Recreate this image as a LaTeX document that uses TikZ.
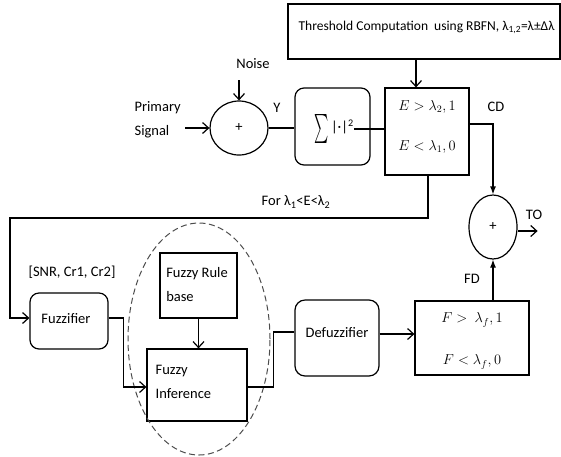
\documentclass[tikz,border=0pt]{standalone}
\usepackage{fontspec}
\setmainfont{Carlito}
\usetikzlibrary{arrows.meta,shapes.geometric}
\begin{document}
\begin{tikzpicture}[x=1pt,y=-1pt,
  font=\fontsize{14.5}{24}\selectfont,
  line width=1.2pt,
  sq/.style={draw, line width=1.2pt, inner sep=0pt},
  rsq/.style={sq, rounded corners=9pt},
  oval/.style={draw, ellipse, line width=1.2pt, inner sep=0pt},
  arr/.style={-{Straight Barb[length=6pt,width=11pt]}},
  farr/.style={-{Latex[length=8pt,width=6pt]}},
  txt/.style={inner sep=0pt},
  mth/.style={inner sep=0pt, font=\fontsize{14.5}{24}\selectfont}
]
\useasboundingbox (0,0) rectangle (561,456);

% blocks
\node[sq, minimum width=272pt, minimum height=55pt] (tb) at (424,31.5) {};
\node[txt, anchor=west] (tbt) at (298,27) {\resizebox{256pt}{!}{Threshold Computation\ \ using RBFN, λ\textsubscript{1,2}=λ±Δλ}};
\node[sq, minimum width=84pt, minimum height=87pt] (E) at (427,131.5) {};
\node[mth] (e1) at (427,107) {$E>\lambda_2,1$};
\node[mth] (e2) at (427,147) {$E<\lambda_1,0$};
\node[rsq, minimum width=75pt, minimum height=77pt] (sum) at (332.5,126.5) {};
\node[txt] (sumt) at (334,129) {\raisebox{-8pt}{\scalebox{1.35}[2.9]{$\sum$}}\,|·|\textsuperscript{2}};
\node[oval, minimum width=58pt, minimum height=54pt] (c1) at (239,128) {+};
\node[oval, minimum width=48pt, minimum height=64pt] (c2) at (493,227) {+};
\node[rsq, minimum width=78pt, minimum height=56pt] (fz) at (69,321) {};
\node[txt] (fzt) at (66,319) {Fuzzifier};
\node[sq, minimum width=77pt, minimum height=65pt] (rb) at (198.5,285.5) {};
\node[txt, align=left] (rbt) at (197,284.5) {Fuzzy Rule\\base};
\node[sq, minimum width=100pt, minimum height=72pt] (inf) at (197,385) {};
\node[txt, align=left, anchor=west] (inft) at (155,381.5) {Fuzzy\\Inference};
\node[rsq, rounded corners=10pt, minimum width=84pt, minimum height=76pt] (dz) at (337,338) {};
\node[txt] (dzt) at (337,333) {Defuzzifier};
\node[sq, minimum width=114pt, minimum height=74pt] (F) at (472,338) {};
\node[mth] (f1) at (472,320) {$F>\ \lambda_f,1$};
\node[mth] (f2) at (472,362) {$F<\lambda_f,0$};
\node[draw, ellipse, dash pattern=on 6pt off 3.5pt, draw=black!70, line width=1pt,
      minimum width=142pt, minimum height=232pt] (grp) at (199,339) {};

% labels
\node[txt, align=left, anchor=west] (ps) at (134,120) {Primary\\Signal};
\node[txt] (nzl) at (253,64) {Noise};
\node[txt] (yl) at (277,108) {Y};
\node[txt] (cdl) at (496,107) {CD};
\node[txt] (tol) at (534,215) {TO};
\node[txt] (fdl) at (472,279) {FD};
\node[txt] (forl) at (296,202) {For λ\textsubscript{1}<E<λ\textsubscript{2}};
\node[txt] (snr) at (72,272) {[SNR, Cr1, Cr2]};

% connector end points
\coordinate (psin) at (185,128);
\coordinate (nzin) at (239,80);
\coordinate (fb) at (10,218);

% connectors
\draw[arr] (psin) -- (c1.west);
\draw[arr] (nzin) -- (c1.north);
\draw (c1.east) -- (sum.west |- c1.east);
\draw (sumt.east) -- (E.west |- sumt.east);
\draw[arr] ([xshift=-11pt]E.north |- tb.south) -- ([xshift=-11pt]E.north);
\draw[farr] ([yshift=7.5pt]E.east) -| (c2.north);
\draw[arr] ([xshift=1pt]E.south) |- (fb) |- ([yshift=3pt]fz.west);
\draw[arr] ([yshift=3pt]fz.east) -- ++(15,0) |- ([yshift=-2pt]inf.west);
\draw[arr] (rb.south) -- (rb.south |- inf.north);
\draw ([yshift=-2pt]inf.east) -- ++(26,0) |- ([yshift=6pt]dz.west);
\draw[arr] ([yshift=4pt]dz.east) -- ([yshift=4pt]F.west);
\draw[farr] (F.north -| c2.south) -- (c2.south);
\draw[arr] ([yshift=-4pt]c2.east) -- ++(20,0);
\end{tikzpicture}
\end{document}
